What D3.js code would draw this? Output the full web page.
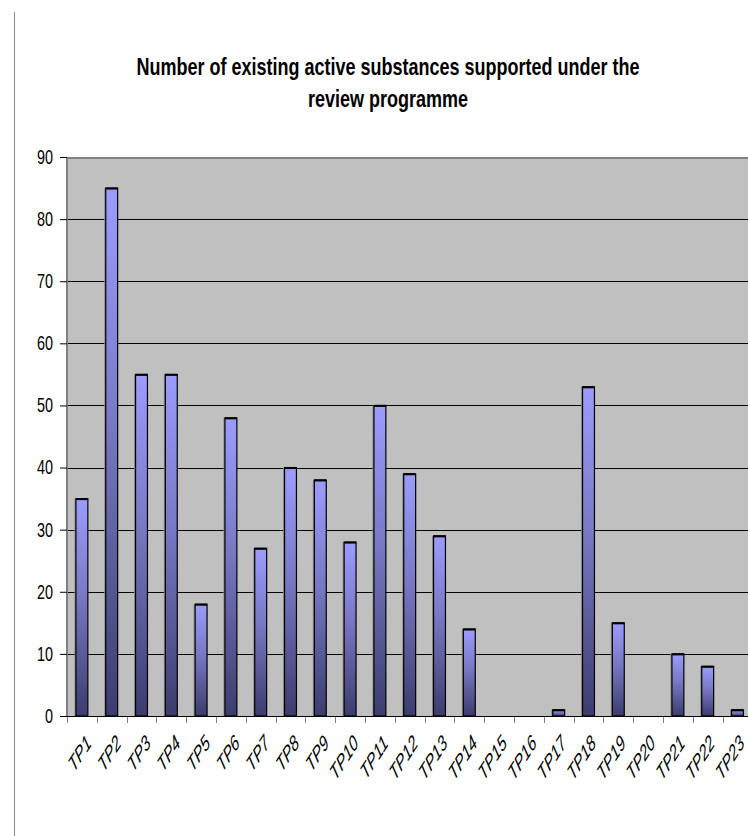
<!DOCTYPE html>
<html>
<head>
<meta charset="utf-8">
<script src="https://cdn.jsdelivr.net/npm/d3@7"></script>
<style>
  html, body { margin: 0; padding: 0; background: #fff; }
  svg { display: block; }
  text { font-family: "Liberation Sans", Arial, sans-serif; }
</style>
</head>
<body>
<svg id="chart" width="748" height="836"></svg>
<script>
// Number of existing active substances per product type
const categories = ["TP1","TP2","TP3","TP4","TP5","TP6","TP7","TP8","TP9","TP10","TP11","TP12",
                    "TP13","TP14","TP15","TP16","TP17","TP18","TP19","TP20","TP21","TP22","TP23"];
const substances = [35, 85, 55, 55, 18, 48, 27, 40, 38, 28, 50, 39, 29, 14, 0, 0, 1, 53, 15, 0, 10, 8, 1];
const yTicks = [0, 10, 20, 30, 40, 50, 60, 70, 80, 90];
const titleLines = ["Number of existing active substances supported under the", "review programme"];

const svg = d3.select("#chart");
const W = 748, H = 836;
const plot = { left: 67, top: 157, bottom: 716, band: 29.8 };
plot.right = plot.left + plot.band * categories.length;

// condensed text: horizontal squeeze applied to every label
const squeeze = { title: 0.75, yLabel: 0.72, xLabel: 0.64 };

// outer frame line on the left
svg.append("line")
  .attr("x1", 14.5).attr("x2", 14.5).attr("y1", 12).attr("y2", H)
  .attr("stroke", "#8a8a8a").attr("stroke-width", 1);

// title
const title = svg.append("text")
  .attr("transform", `translate(388,0) scale(${squeeze.title},1)`)
  .attr("text-anchor", "middle")
  .attr("font-weight", "bold")
  .attr("font-size", 24)
  .attr("fill", "#000");
title.selectAll("tspan").data(titleLines).join("tspan")
  .attr("x", 0)
  .attr("y", (d, i) => 75 + i * 32)
  .text(d => d);

const x = d3.scaleBand()
  .domain(categories)
  .range([plot.left, plot.right])
  .paddingInner(0.6)
  .paddingOuter(0.3);

const y = d3.scaleLinear().domain([0, 90]).range([plot.bottom, plot.top]);

// gradient for the bars
const defs = svg.append("defs");
const grad = defs.append("linearGradient")
  .attr("id", "barFill")
  .attr("x1", 0).attr("y1", 0).attr("x2", 0).attr("y2", 1);
grad.append("stop").attr("offset", "0%").attr("stop-color", "#9c9cff");
grad.append("stop").attr("offset", "45%").attr("stop-color", "#7878c4");
grad.append("stop").attr("offset", "100%").attr("stop-color", "#3c3c6e");

// plot background
svg.append("rect")
  .attr("x", plot.left).attr("y", plot.top)
  .attr("width", plot.right - plot.left).attr("height", plot.bottom - plot.top)
  .attr("fill", "#c0c0c0");

// horizontal gridlines
svg.append("g")
  .selectAll("line")
  .data(yTicks.filter(t => t > 0 && t < 90))
  .join("line")
  .attr("x1", plot.left).attr("x2", plot.right)
  .attr("y1", d => Math.round(y(d)) + 0.5).attr("y2", d => Math.round(y(d)) + 0.5)
  .attr("stroke", "#000").attr("stroke-width", 1);

// plot border (top and left)
svg.append("path")
  .attr("d", `M${plot.left},${plot.bottom} V${plot.top + 1} H${plot.right}`)
  .attr("fill", "none").attr("stroke", "#808080").attr("stroke-width", 2);

// bars
const barData = categories.map((c, i) => ({ c, v: substances[i] })).filter(d => d.v > 0);
const bw = x.bandwidth();
const bars = svg.append("g");
bars.selectAll("rect.shade")
  .data(barData)
  .join("rect")
  .attr("class", "shade")
  .attr("x", d => x(d.c) - 1.5)
  .attr("y", d => y(d.v))
  .attr("width", 1.5)
  .attr("height", d => y(0) - y(d.v))
  .attr("fill", "#8c8c8c");
bars.selectAll("rect.bar")
  .data(barData)
  .join("rect")
  .attr("class", "bar")
  .attr("x", d => x(d.c))
  .attr("y", d => y(d.v))
  .attr("width", bw)
  .attr("height", d => y(0) - y(d.v))
  .attr("fill", "url(#barFill)")
  .attr("stroke", "#000")
  .attr("stroke-width", 1.2);
bars.selectAll("line.cap")
  .data(barData)
  .join("line")
  .attr("class", "cap")
  .attr("x1", d => x(d.c)).attr("x2", d => x(d.c) + bw)
  .attr("y1", d => y(d.v) + 0.5).attr("y2", d => y(d.v) + 0.5)
  .attr("stroke", "#000").attr("stroke-width", 2);

// y axis
const yAxis = d3.axisLeft(y).tickValues(yTicks).tickSize(7).tickPadding(0);
const gy = svg.append("g").attr("transform", `translate(${plot.left},0)`).call(yAxis);
gy.select(".domain").remove();
gy.selectAll(".tick line").attr("stroke", "#000");
gy.selectAll(".tick text")
  .attr("x", 0)
  .attr("transform", `translate(-14,0) scale(${squeeze.yLabel},1)`)
  .attr("font-size", 20)
  .attr("font-family", "'Liberation Sans', Arial, sans-serif")
  .attr("fill", "#000");

// x axis line at zero
svg.append("line")
  .attr("x1", plot.left - 7).attr("x2", plot.right)
  .attr("y1", plot.bottom + 0.5).attr("y2", plot.bottom + 0.5)
  .attr("stroke", "#000").attr("stroke-width", 1.2);

// x ticks at category boundaries
const bounds = d3.range(categories.length + 1).map(i => plot.left + i * plot.band);
svg.append("g").selectAll("line")
  .data(bounds)
  .join("line")
  .attr("x1", d => Math.round(d) + 0.5).attr("x2", d => Math.round(d) + 0.5)
  .attr("y1", plot.bottom + 1).attr("y2", plot.bottom + 7)
  .attr("stroke", "#808080").attr("stroke-width", 1);

// rotated category labels
svg.append("g").selectAll("text")
  .data(categories)
  .join("text")
  .attr("transform", (d, i) => `translate(${x(d) + bw / 2 + 3 - i * 0.12},${plot.bottom + 17}) scale(${squeeze.xLabel},1) rotate(-45)`)
  .attr("text-anchor", "end")
  .attr("dominant-baseline", "hanging")
  .attr("font-style", "italic")
  .attr("font-size", 22)
  .attr("fill", "#000")
  .text(d => d);
</script>
</body>
</html>
